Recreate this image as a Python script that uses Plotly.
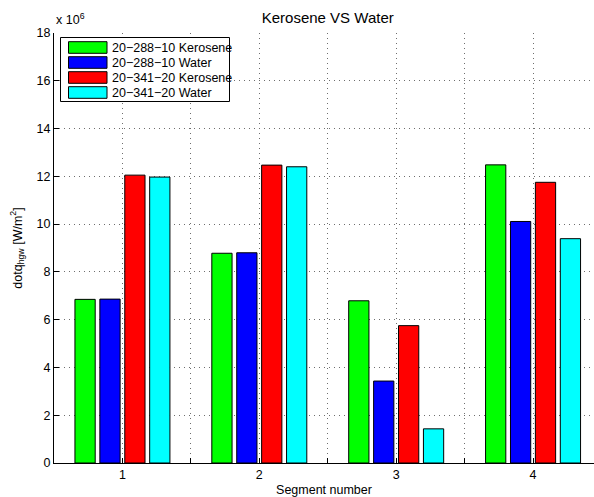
import plotly.graph_objects as go

# Heat flux per segment, in units of 1e6 W/m^2
segments = [1, 2, 3, 4]
series_names = [
    "20\u2212288\u221210 Kerosene",
    "20\u2212288\u221210 Water",
    "20\u2212341\u221220 Kerosene",
    "20\u2212341\u221220 Water",
]
kerosene_288 = [6.85, 8.78, 6.79, 12.48]
water_288 = [6.86, 8.80, 3.43, 10.11]
kerosene_341 = [12.05, 12.47, 5.75, 11.75]
water_341 = [11.97, 12.40, 1.43, 9.39]
series_values = [kerosene_288, water_288, kerosene_341, water_341]
series_colors = ["#00ff00", "#0000ff", "#ff0000", "#00ffff"]

y_ticks = list(range(0, 19, 2))

FONT = "Liberation Sans, Arial, Helvetica, sans-serif"
W, H = 594, 497
ML, MR, MT, MB = 54, 0, 33, 34
PW, PH = W - ML - MR, H - MT - MB

fig = go.Figure()
for name, vals, col in zip(series_names, series_values, series_colors):
    fig.add_trace(go.Bar(
        x=segments, y=vals, name=name, showlegend=False,
        marker=dict(color=col, line=dict(color="black", width=1)),
    ))

# Legend box drawn with shapes (wide colour patches)
def px_x(p):
    return (p - ML) / PW

def px_y(p):
    return (H - MB - p) / PH

shapes = []
annotations = []
box = dict(x0=60.5, x1=229.5, y0=37.5, y1=101.5)
shapes.append(dict(type="rect", xref="paper", yref="paper",
                   x0=px_x(box["x0"]), x1=px_x(box["x1"]),
                   y0=px_y(box["y1"]), y1=px_y(box["y0"]),
                   line=dict(color="black", width=1), fillcolor="white", layer="above"))
for i, (name, col) in enumerate(zip(series_names, series_colors)):
    top = 41.7 + 15 * i
    shapes.append(dict(type="rect", xref="paper", yref="paper",
                       x0=px_x(68.5), x1=px_x(107), y0=px_y(top + 11.6), y1=px_y(top),
                       line=dict(color="black", width=1), fillcolor=col, layer="above"))
    annotations.append(dict(text=name, xref="paper", yref="paper",
                            x=px_x(110), y=px_y(top + 5.8), xanchor="left", yanchor="middle",
                            showarrow=False, font=dict(family=FONT, size=12.5, color="black")))

# Exponent label of the y axis
annotations.append(dict(text="x 10<sup>6</sup>", xref="paper", yref="paper",
                        x=px_x(54), y=px_y(29), xanchor="left", yanchor="bottom",
                        showarrow=False, font=dict(family=FONT, size=12.5, color="black")))

grid_style = dict(showgrid=True, gridcolor="#6e6e6e", gridwidth=1, griddash="1px,4px")

# The axes run from 0.5 to 4.5 over 547.5 px; the page ends a little before 4.5
x_full_px = 547.5
x_max = 0.5 + 4.0 * PW / x_full_px

fig.update_layout(
    width=W, height=H,
    margin=dict(l=ML, r=MR, t=MT, b=MB, pad=0),
    paper_bgcolor="white", plot_bgcolor="white",
    barmode="group", bargap=0.272, bargroupgap=0.187,
    font=dict(family=FONT, size=12.5, color="black"),
    title=dict(text="Kerosene VS Water", x=(ML + x_full_px / 2) / W, xanchor="center",
               y=1 - 18 / H, yanchor="middle",
               font=dict(family=FONT, size=15, color="black")),
    xaxis=dict(range=[0.5, x_max],
               tickmode="linear", tick0=1, dtick=1,
               ticks="inside", ticklen=5, tickcolor="black",
               minor=dict(tickmode="linear", tick0=0.5, dtick=0.5, ticks="inside",
                          ticklen=5, tickcolor="black", **grid_style),
               showline=True, linecolor="black", linewidth=1, mirror=False,
               zeroline=False,
               title=dict(text="Segment number", standoff=4,
                          font=dict(family=FONT, size=12.5)),
               **grid_style),
    yaxis=dict(range=[0, 18], tickmode="array", tickvals=y_ticks,
               ticks="inside", ticklen=5, tickcolor="black",
               showline=True, linecolor="black", linewidth=1, mirror=False,
               zeroline=False,
               title=dict(text="dotq<sub>hgw</sub> [W/m<sup>2</sup>]", standoff=11,
                          font=dict(family=FONT, size=12.5)),
               **grid_style),
    shapes=shapes, annotations=annotations,
)

fig.write_html("out.html")
